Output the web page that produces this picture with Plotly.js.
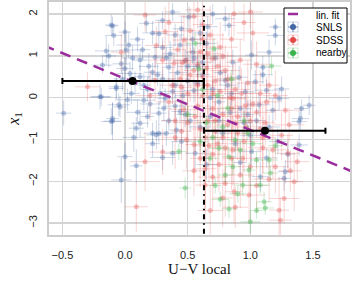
<!DOCTYPE html>
<html>
<head>
<meta charset="utf-8">
<script src="https://cdn.plot.ly/plotly-3.0.1.min.js"></script>
<style>html,body{margin:0;padding:0;background:#fff;}#chart{width:353px;height:285px;}</style>
</head>
<body>
<div id="chart"></div>
<script>
// ---- SNLS ----
const snlsX = [-0.49,-0.10,-0.09,-0.15,-0.13,-0.18,0.00,0.03,-0.03,-0.07,
-0.19,-0.10,-0.05,-0.10,0.00,0.09,-0.03,0.30,0.38,0.22,
0.27,0.33,0.09,0.56,1.39,1.27,1.28,1.13,1.01,1.08,
1.39,1.20,1.20,1.15,1.10,1.10,1.01,1.04,1.13,1.25,
1.23,1.41,1.47,1.40,1.07,0.51,0.80,0.83,0.27,0.44,
0.54,0.48,0.86,0.91,0.80,0.35,0.24,0.22,0.40,0.55,
0.32,0.96,0.92,-0.11,0.22,0.17,0.01,0.04,-0.07,-0.20,
-0.04,0.12,0.15,0.27,0.25,0.41,0.44,0.12,0.12,-0.11,
0.05,0.08,0.18,0.20,0.30,0.36,0.42,0.50,0.58,0.62,
0.65,0.70,0.75,0.68,0.60,0.52,0.45,0.35,0.15,0.02,
0.10,0.30,0.45,0.60,0.72,0.85,0.95,1.00,0.88,0.78,
1.15,1.22,1.30,0.65,0.92,0.70,0.38,0.10,0.28,-0.02,
0.00,0.06,0.14,0.19,0.26,0.33,0.38,0.46,0.50,0.55,
0.58,0.62,0.31,0.40,0.48,0.18,0.07,0.22,0.54,0.40,
0.30,0.66,0.76,0.82,0.68,0.75,0.84,0.98,1.05,1.18];
const snlsY = [-0.37,1.72,1.49,1.12,1.00,0.78,1.57,1.26,0.81,0.26,
0.02,-0.50,-0.17,-0.56,-1.41,-1.63,-1.97,-1.43,-1.33,-0.85,
-0.85,-0.85,-0.73,-1.33,-1.13,-1.93,-1.77,-1.44,-1.29,-1.89,
-0.57,1.69,1.49,1.09,0.73,0.55,1.02,0.38,0.18,0.21,
-0.02,-0.26,-0.18,-0.50,-0.17,1.93,1.89,1.73,1.53,1.26,
1.09,0.89,0.85,0.49,0.42,0.73,0.97,0.61,0.30,0.17,
-0.02,0.14,-0.26,1.74,1.55,1.78,1.14,0.58,0.22,0.02,
-0.22,-0.61,-0.06,-0.37,-0.89,-0.77,-0.33,0.90,0.50,-0.57,
0.10,0.35,0.20,-0.15,0.45,1.05,0.60,0.40,0.75,0.55,
1.30,0.20,-0.10,-0.45,-0.70,-0.55,-1.05,-0.55,0.30,-0.05,
1.40,1.20,1.65,1.55,0.95,0.10,-0.60,-0.90,-1.10,-0.85,
-0.70,-1.05,-1.35,-1.60,-1.55,2.00,2.05,-0.35,0.10,0.45,
0.70,0.95,1.15,0.75,0.55,0.95,0.15,0.05,0.75,0.95,
0.35,0.85,-0.25,-0.20,-0.40,-0.45,-0.95,-1.10,1.40,1.50,
1.85,1.70,0.60,0.30,0.00,-0.55,-0.35,-0.40,-0.55,-0.30];
const snlsEX = [0.06,0.05,0.07,0.09,0.06,0.08,0.05,0.10,0.07,0.06,
0.08,0.05,0.09,0.07,0.06,0.05,0.08,0.10,0.06,0.07,
0.05,0.09,0.06,0.08,0.07,0.05,0.06,0.09,0.08,0.07,
0.06,0.05,0.07,0.10,0.06,0.08,0.05,0.07,0.09,0.06,
0.08,0.06,0.05,0.07,0.09,0.06,0.08,0.05,0.07,0.10,
0.06,0.09,0.05,0.07,0.08,0.06,0.11,0.07,0.05,0.08,
0.06,0.07,0.09,0.05,0.08,0.06,0.07,0.10,0.06,0.08,
0.05,0.07,0.09,0.06,0.08,0.05,0.07,0.06,0.09,0.08,
0.07,0.05,0.06,0.08,0.10,0.06,0.07,0.05,0.09,0.06,
0.08,0.07,0.05,0.06,0.09,0.07,0.08,0.06,0.05,0.10,
0.06,0.08,0.07,0.05,0.09,0.06,0.07,0.08,0.05,0.06,
0.09,0.07,0.06,0.08,0.05,0.07,0.06,0.09,0.08,0.07,
0.07,0.09,0.06,0.08,0.05,0.07,0.10,0.06,0.08,0.07,
0.05,0.09,0.06,0.08,0.07,0.05,0.09,0.06,0.08,0.07,
0.06,0.08,0.05,0.07,0.09,0.06,0.08,0.05,0.07,0.06];
const snlsEY = [0.30,0.22,0.25,0.35,0.28,0.20,0.26,0.32,0.24,0.30,
0.22,0.38,0.27,0.45,0.33,0.40,0.55,0.30,0.28,0.25,
0.22,0.30,0.27,0.35,0.26,0.30,0.28,0.24,0.32,0.36,
0.25,0.20,0.24,0.30,0.27,0.22,0.35,0.28,0.25,0.30,
0.26,0.22,0.24,0.30,0.28,0.25,0.30,0.26,0.34,0.22,
0.28,0.25,0.30,0.27,0.24,0.32,0.26,0.22,0.30,0.28,
0.24,0.27,0.31,0.25,0.29,0.23,0.36,0.28,0.24,0.30,
0.26,0.33,0.25,0.28,0.35,0.30,0.27,0.24,0.29,0.32,
0.25,0.28,0.30,0.26,0.24,0.31,0.27,0.29,0.25,0.33,
0.28,0.26,0.30,0.24,0.35,0.27,0.30,0.25,0.28,0.26,
0.30,0.24,0.27,0.32,0.25,0.28,0.34,0.30,0.36,0.26,
0.29,0.31,0.33,0.38,0.30,0.24,0.22,0.28,0.26,0.30,
0.27,0.30,0.25,0.32,0.28,0.24,0.30,0.27,0.33,0.26,
0.29,0.25,0.31,0.28,0.30,0.26,0.35,0.32,0.24,0.27,
0.22,0.26,0.30,0.28,0.31,0.29,0.27,0.33,0.30,0.28];

// ---- SDSS ----
const sdssX = [-0.30,-0.03,0.16,0.09,0.30,0.87,0.88,0.99,1.23,1.24,
1.27,1.35,1.375,1.30,1.20,0.64,1.31,0.87,0.70,0.76,
0.46,0.30,0.86,0.70,0.47,0.16,0.32,0.24,0.39,0.49,
0.47,0.49,0.55,0.55,0.62,0.68,0.95,1.00,1.02,0.58,
0.62,0.66,0.72,0.78,0.82,0.90,0.95,1.00,1.05,1.10,
1.12,1.18,1.25,0.80,0.85,0.75,0.70,0.60,0.55,0.40,
0.35,0.52,0.80,0.92,1.05,1.15,1.20,1.28,0.98,0.88,
0.65,0.72,0.60,0.42,0.25,0.20,0.45,0.58,0.92,1.05,
1.15,0.78,0.68,1.10,1.32,0.50,0.56,0.64,0.74,0.84,
0.96,0.62,0.38,0.66,0.76,1.08,0.90,0.58,0.44,0.70,
0.45,0.50,0.55,0.62,0.66,0.70,0.74,0.78,0.82,0.85,
0.88,0.93,0.97,1.02,1.08,1.13,0.60,0.67,0.72,0.78,
0.86,0.94,1.00,0.64,0.80,0.52,0.58,0.35,0.85,0.40];
const sdssY = [0.26,1.09,-1.53,-2.61,-1.30,-2.25,-2.62,-2.33,-2.69,-2.93,
-2.41,-2.01,-1.53,-1.33,-1.65,-2.09,-0.65,2.01,0.93,1.21,
0.85,0.90,-0.02,-0.26,-0.28,1.98,1.58,0.42,0.82,0.90,
1.38,-1.01,-1.12,1.95,1.75,1.50,1.80,2.05,1.55,0.30,
0.05,-0.55,-0.80,-0.40,-0.65,-0.85,-1.05,-0.55,-0.35,-0.95,
-0.60,-1.25,-0.90,-1.20,-1.45,-1.60,-1.90,-1.45,-1.75,-0.55,
-0.10,0.55,0.65,0.90,0.80,0.30,0.05,-0.30,0.35,0.20,
0.70,0.40,1.10,1.15,1.25,0.05,-0.80,-0.20,-1.85,-2.10,
-1.95,-2.40,-2.70,-1.20,-1.75,0.10,-0.45,-0.95,-1.10,0.00,
-0.20,1.40,0.30,0.30,0.15,0.10,-0.45,0.80,0.45,-1.35,
0.25,-0.60,0.65,0.50,1.05,0.10,0.75,1.00,0.45,-0.25,
-0.60,0.10,-0.70,-0.15,-0.75,-0.10,-0.75,-1.15,-0.55,-0.95,
-1.25,-1.45,-1.65,-1.70,-2.05,1.60,2.10,1.80,1.40,-0.95];
const sdssEX = [0.10,0.08,0.12,0.09,0.11,0.07,0.10,0.13,0.08,0.09,
0.12,0.07,0.10,0.09,0.11,0.08,0.12,0.10,0.09,0.14,
0.08,0.11,0.10,0.07,0.12,0.09,0.10,0.08,0.13,0.11,
0.09,0.10,0.07,0.12,0.08,0.11,0.09,0.10,0.13,0.08,
0.11,0.09,0.12,0.07,0.10,0.08,0.11,0.09,0.12,0.10,
0.08,0.13,0.09,0.11,0.07,0.10,0.12,0.08,0.09,0.11,
0.10,0.07,0.12,0.09,0.11,0.08,0.10,0.13,0.09,0.12,
0.08,0.11,0.10,0.07,0.09,0.12,0.08,0.10,0.11,0.09,
0.13,0.08,0.10,0.12,0.09,0.11,0.07,0.10,0.08,0.12,
0.09,0.11,0.10,0.08,0.13,0.09,0.12,0.07,0.10,0.11,
0.09,0.12,0.08,0.10,0.11,0.07,0.13,0.09,0.10,0.08,
0.12,0.09,0.11,0.08,0.10,0.12,0.07,0.11,0.09,0.10,
0.08,0.12,0.10,0.09,0.11,0.08,0.10,0.12,0.09,0.11];
const sdssEY = [0.35,0.45,0.70,0.60,0.55,0.75,0.50,0.65,0.80,0.55,
0.60,0.70,0.50,0.45,0.65,0.85,0.40,0.55,0.70,0.60,
0.50,0.45,0.80,0.65,0.55,0.40,0.60,0.50,0.75,0.55,
0.60,0.70,0.85,0.50,0.65,0.70,0.45,0.40,0.55,0.75,
0.60,0.90,0.70,0.55,0.80,0.65,0.75,0.50,0.60,0.85,
0.55,0.70,0.60,0.90,0.75,0.65,0.80,0.70,0.60,0.50,
0.55,0.65,0.60,0.50,0.55,0.45,0.60,0.50,0.55,0.65,
0.70,0.60,0.55,0.50,0.45,0.60,0.70,0.75,0.80,0.65,
0.55,0.70,0.60,0.75,0.50,0.65,0.85,0.70,0.90,0.60,
0.55,0.50,0.45,0.70,0.65,0.55,0.80,0.60,0.50,0.75,
0.60,0.75,0.55,0.65,0.50,0.70,0.60,0.55,0.65,0.80,
0.70,0.60,0.85,0.55,0.75,0.60,0.80,0.90,0.65,0.70,
0.85,0.75,0.70,0.95,0.80,0.55,0.45,0.50,0.60,0.75];

// ---- nearby ----
const nearbyX = [0.43,0.48,0.76,0.83,1.00,1.05,1.12,1.11,0.75,0.83,
0.86,0.94,0.99,1.08,1.16,1.15,1.05,0.88,1.17,0.59,
0.71,0.70,0.78,0.65,0.92,0.80,0.68,0.95,1.02,0.62,
0.50,0.74,0.85,0.56,0.90,0.72,1.20,0.60,0.98,0.82];
const nearbyY = [-1.29,-2.16,-2.43,-2.66,-2.97,-2.70,-2.64,-2.49,-1.21,-1.41,
-1.65,-2.09,-1.73,-2.09,-1.80,-1.49,-1.49,-1.01,0.76,0.69,
1.17,-0.95,-0.70,-0.60,-1.25,-1.85,-1.45,-0.55,-1.10,0.20,
-0.40,0.05,0.45,1.30,-2.30,-2.10,-1.15,-1.05,-0.85,-0.25];
const nearbyEX = [0.06,0.05,0.07,0.06,0.08,0.05,0.07,0.06,0.08,0.05,
0.06,0.07,0.05,0.08,0.06,0.07,0.05,0.06,0.08,0.07,
0.05,0.06,0.07,0.08,0.05,0.06,0.07,0.05,0.08,0.06,
0.07,0.05,0.06,0.08,0.07,0.05,0.06,0.07,0.05,0.06];
const nearbyEY = [0.20,0.25,0.18,0.22,0.28,0.20,0.16,0.24,0.18,0.22,
0.20,0.26,0.18,0.22,0.19,0.24,0.20,0.17,0.22,0.20,
0.25,0.18,0.21,0.19,0.23,0.20,0.17,0.22,0.24,0.18,
0.20,0.16,0.22,0.25,0.21,0.19,0.20,0.23,0.18,0.21];

// ---- fit line, cut, binned means ----
const fitX = [-0.65, 1.85];
const fitY = [1.25, -1.81];
const cutX = 0.63;
const binX = [0.06, 1.117];
const binY = [0.40, -0.79];
const binErrMinus = [0.56, 0.487];
const binErrPlus = [0.57, 0.483];

const xTicks = [-0.5, 0.0, 0.5, 1.0, 1.5];
const yTicks = [-3, -2, -1, 0, 1, 2];

function series(x, y, ex, ey, rgb, ma, ea) {
  return {
    type: 'scatter', mode: 'markers', x: x, y: y, showlegend: false, hoverinfo: 'skip',
    marker: {size: 5, color: 'rgba(' + rgb + ',' + ma + ')', line: {width: 0}},
    error_x: {type: 'data', array: ex, visible: true, color: 'rgba(' + rgb + ',' + ea + ')', thickness: 1, width: 0},
    error_y: {type: 'data', array: ey, visible: true, color: 'rgba(' + rgb + ',' + ea + ')', thickness: 1, width: 0}
  };
}
const BLUE = '68,104,168', RED = '226,74,72', GREEN = '60,180,75';

const traces = [
  series(snlsX, snlsY, snlsEX, snlsEY, BLUE, 0.35, 0.27),
  series(sdssX, sdssY, sdssEX, sdssEY, RED, 0.33, 0.24),
  series(nearbyX, nearbyY, nearbyEX, nearbyEY, GREEN, 0.38, 0.27),
  {type: 'scatter', mode: 'lines', x: fitX, y: fitY, showlegend: false, hoverinfo: 'skip',
   line: {color: '#9a2c9c', width: 2.5, dash: '11px,7px'}},
  {type: 'scatter', mode: 'markers', x: binX, y: binY, showlegend: false, hoverinfo: 'skip',
   marker: {size: 8, color: '#000'},
   error_x: {type: 'data', symmetric: false, array: binErrPlus, arrayminus: binErrMinus,
             color: '#000', thickness: 2, width: 3}}
];

// legend helpers in paper coords (plot area 49..350 x, 2..235 y)
const L = 49, W = 301, T = 2, H = 233;
const px = v => (v - L) / W;
const py = v => (T + H - v) / H;
const shapes = [
  {type: 'line', xref: 'x', yref: 'paper', x0: cutX, x1: cutX, y0: 0.005, y1: 0.985,
   line: {color: '#000', width: 2, dash: '5px,4px,1.5px,4px'}, layer: 'above'},
  {type: 'rect', xref: 'paper', yref: 'paper', x0: px(284), x1: px(347), y0: py(63), y1: py(8),
   line: {color: '#000', width: 1}, fillcolor: '#fff', layer: 'above'},
  {type: 'line', xref: 'paper', yref: 'paper', x0: px(288), x1: px(298), y0: py(14), y1: py(14),
   line: {color: '#9a2c9c', width: 2.5}, layer: 'above'}
];
const legItems = [['SNLS', BLUE, 27], ['SDSS', RED, 40], ['nearby', GREEN, 53]];
legItems.forEach(([name, rgb, yy]) => {
  const cx = 293;
  shapes.push({type: 'rect', xref: 'paper', yref: 'paper', x0: px(cx - 5), x1: px(cx + 5), y0: py(yy + 5), y1: py(yy - 5),
    line: {color: 'rgba(' + rgb + ',0.25)', width: 1}, layer: 'above'});
  shapes.push({type: 'line', xref: 'paper', yref: 'paper', x0: px(cx - 5), x1: px(cx + 5), y0: py(yy), y1: py(yy),
    line: {color: 'rgba(' + rgb + ',0.5)', width: 1.5}, layer: 'above'});
  shapes.push({type: 'line', xref: 'paper', yref: 'paper', x0: px(cx), x1: px(cx), y0: py(yy + 5), y1: py(yy - 5),
    line: {color: 'rgba(' + rgb + ',0.5)', width: 1.5}, layer: 'above'});
  shapes.push({type: 'circle', xref: 'paper', yref: 'paper', x0: px(cx - 3), x1: px(cx + 3), y0: py(yy + 3), y1: py(yy - 3),
    line: {width: 0}, fillcolor: 'rgb(' + rgb + ')', layer: 'above'});
});
const annotations = [['lin. fit', 15], ['SNLS', 27.7], ['SDSS', 40.3], ['nearby', 52.8]].map(([t, yy]) => ({
  xref: 'paper', yref: 'paper', x: px(314), y: py(yy), text: t, showarrow: false,
  xanchor: 'left', yanchor: 'middle', font: {family: 'Liberation Sans, Arial, sans-serif', size: 10, color: '#000'}
}));

const axisCommon = {
  showgrid: true, gridcolor: '#d4d4d4', gridwidth: 1.3, zeroline: false,
  showline: true, mirror: true, linecolor: '#cdcdcd', linewidth: 2,
  ticks: '', tickfont: {family: 'Liberation Sans, Arial, sans-serif', size: 11, color: '#222'}
};

const layout = {
  width: 353, height: 285,
  margin: {l: 49, r: 3, t: 2, b: 50},
  paper_bgcolor: '#fff', plot_bgcolor: '#fff',
  showlegend: false,
  xaxis: Object.assign({}, axisCommon, {
    range: [-0.607, 1.796], tickmode: 'array', tickvals: xTicks, tickformat: '.1f',
    ticklabelstandoff: 9,
    title: {text: 'U\u2212V local', font: {family: 'Liberation Serif, DejaVu Serif, serif', size: 15, color: '#111'}, standoff: 1}
  }),
  yaxis: Object.assign({}, axisCommon, {
    range: [-3.285, 2.29], tickmode: 'array', tickvals: yTicks, tickangle: -90,
    ticklabelstandoff: 6,
    title: {text: '<i>x</i><sub>1</sub>', font: {family: 'Liberation Serif, DejaVu Serif, serif', size: 16, color: '#111'}, standoff: 3}
  }),
  shapes: shapes,
  annotations: annotations
};

Plotly.newPlot('chart', traces, layout, {displayModeBar: false, staticPlot: true});
</script>
</body>
</html>
